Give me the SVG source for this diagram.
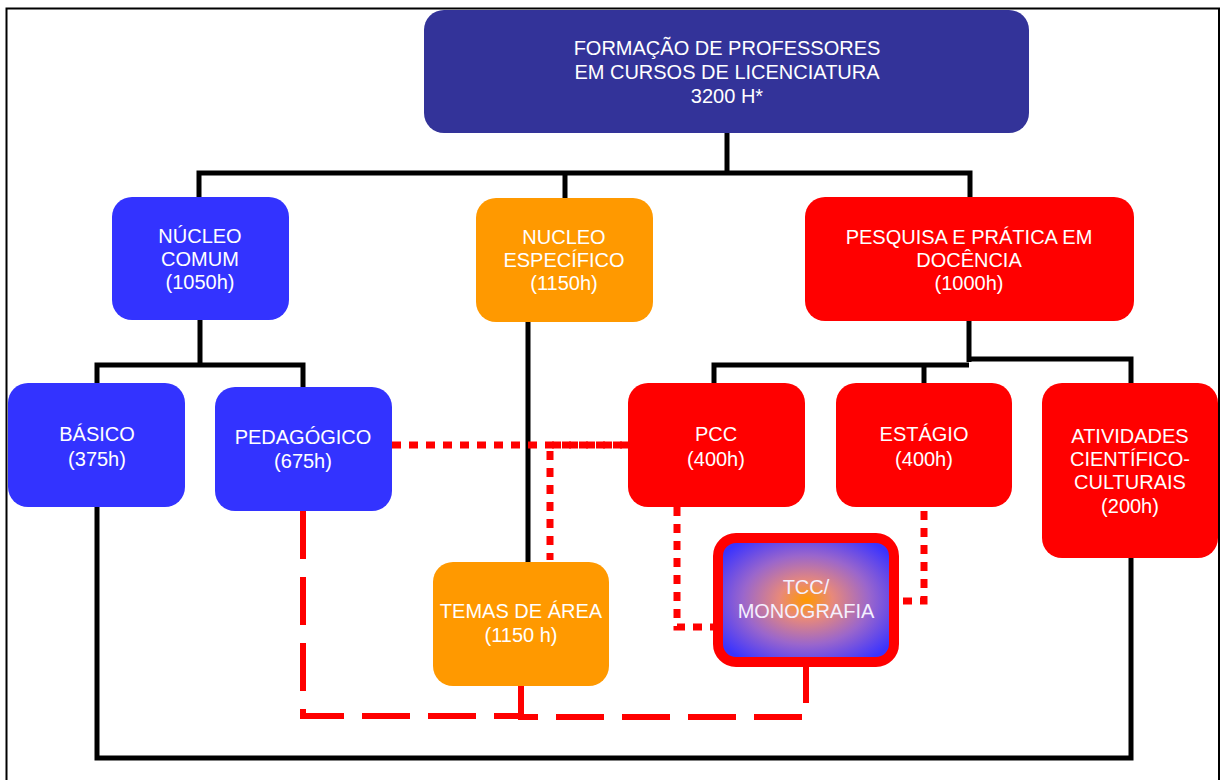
<svg xmlns="http://www.w3.org/2000/svg" width="1221" height="780" viewBox="0 0 1221 780">
<defs>
<radialGradient id="tccGrad" cx="50%" cy="50%" r="60%">
<stop offset="0%" stop-color="#FF9900"/>
<stop offset="25%" stop-color="#E8897A"/>
<stop offset="60%" stop-color="#9A66CC"/>
<stop offset="100%" stop-color="#3A33FF"/>
</radialGradient>
<style>
.t{font-family:"Liberation Sans",Arial,sans-serif;font-size:20px;fill:#FFFFFF;text-anchor:middle}
.blue{fill:#3333FF}
.orange{fill:#FF9900}
.red{fill:#FF0000}
.dark{fill:#333399}
.conn{fill:none;stroke:#000;stroke-width:5;stroke-linejoin:miter}
.dot{fill:none;stroke:#FF0000;stroke-width:7;stroke-dasharray:9 8}
.dash{fill:none;stroke:#FF0000;stroke-width:6;stroke-dasharray:48 18}
</style>
</defs>
<rect width="1221" height="780" fill="#FFFFFF"/>
<path d="M6.5,780 V8.5 H1219 V780" fill="none" stroke="#000" stroke-width="2"/>
<g id="connectors">
<path class="conn" d="M727,133 V173"/>
<path class="conn" d="M199,197 V173 H970 V197"/>
<path class="conn" d="M565,173 V198"/>
<path class="conn" d="M200,320 V365"/>
<path class="conn" d="M97,383 V365 H303 V387"/>
<path class="conn" d="M528,322 V562"/>
<path class="conn" d="M969,321 V362"/>
<path class="conn" d="M714,383 V365 H969"/>
<path class="conn" d="M924,365 V383"/>
<path class="conn" d="M969,359 H1131 V383"/>
<path class="conn" d="M97,507 V758 H1131 V558"/>
<path class="dot" d="M392,445 H629"/>
<path class="dot" d="M629,445 H550 V560"/>
<path class="dot" d="M677,507 V627 H713"/>
<path class="dot" d="M924,511 V601 H899"/>
<path class="dash" d="M303,511 V716 H521"/>
<path class="dash" d="M521,686 V717 H806 V667"/>
</g>
<g id="formacao">
<rect class="dark" x="424" y="10" width="605" height="123" rx="20"/>
<text class="t" x="727" y="55">FORMAÇÃO DE PROFESSORES</text>
<text class="t" x="727" y="79">EM CURSOS DE LICENCIATURA</text>
<text class="t" x="727" y="103">3200 H*</text>
</g>
<g id="nucleo-comum">
<rect class="blue" x="112" y="197" width="177" height="123" rx="20"/>
<text class="t" x="200" y="243">NÚCLEO</text>
<text class="t" x="200" y="266">COMUM</text>
<text class="t" x="200" y="289">(1050h)</text>
</g>
<g id="nucleo-especifico">
<rect class="orange" x="476" y="198" width="177" height="124" rx="20"/>
<text class="t" x="564" y="244">NUCLEO</text>
<text class="t" x="564" y="267">ESPECÍFICO</text>
<text class="t" x="564" y="290">(1150h)</text>
</g>
<g id="pesquisa">
<rect class="red" x="805" y="197" width="329" height="124" rx="20"/>
<text class="t" x="969" y="244">PESQUISA E PRÁTICA EM</text>
<text class="t" x="969" y="267">DOCÊNCIA</text>
<text class="t" x="969" y="290">(1000h)</text>
</g>
<g id="basico">
<rect class="blue" x="8" y="383" width="177" height="124" rx="20"/>
<text class="t" x="97" y="441">BÁSICO</text>
<text class="t" x="97" y="466">(375h)</text>
</g>
<g id="pedagogico">
<rect class="blue" x="215" y="387" width="177" height="124" rx="20"/>
<text class="t" x="303" y="444">PEDAGÓGICO</text>
<text class="t" x="303" y="468">(675h)</text>
</g>
<g id="pcc">
<rect class="red" x="628" y="383" width="177" height="124" rx="20"/>
<text class="t" x="716" y="441">PCC</text>
<text class="t" x="716" y="466">(400h)</text>
</g>
<g id="estagio">
<rect class="red" x="836" y="383" width="176" height="124" rx="20"/>
<text class="t" x="924" y="441">ESTÁGIO</text>
<text class="t" x="924" y="466">(400h)</text>
</g>
<g id="atividades">
<rect class="red" x="1042" y="383" width="176" height="175" rx="20"/>
<text class="t" x="1130" y="443">ATIVIDADES</text>
<text class="t" x="1130" y="466">CIENTÍFICO-</text>
<text class="t" x="1130" y="489">CULTURAIS</text>
<text class="t" x="1130" y="513">(200h)</text>
</g>
<g id="temas">
<rect class="orange" x="433" y="562" width="176" height="124" rx="20"/>
<text class="t" x="521" y="618">TEMAS DE ÁREA</text>
<text class="t" x="521" y="642">(1150 h)</text>
</g>
<g id="tcc">
<rect x="718" y="538" width="176" height="124" rx="18" fill="url(#tccGrad)" stroke="#FF0000" stroke-width="10"/>
<text class="t" x="806" y="594" style="fill:#F4F0FF">TCC/</text>
<text class="t" x="806" y="618" style="fill:#F4F0FF">MONOGRAFIA</text>
</g>
</svg>
